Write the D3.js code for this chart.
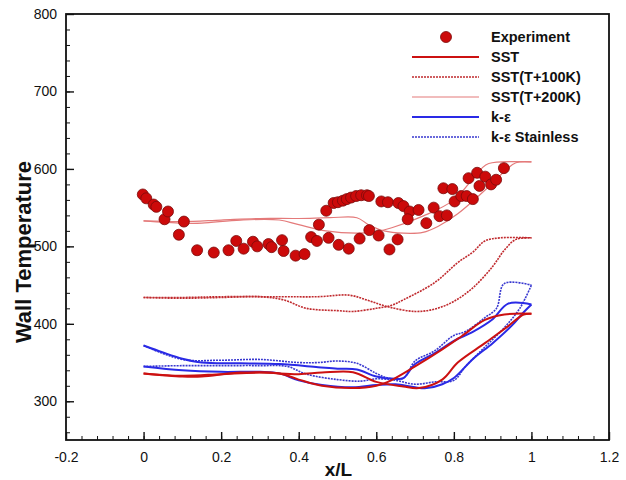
<!DOCTYPE html>
<html>
<head>
<meta charset="utf-8">
<script src="https://cdn.jsdelivr.net/npm/d3@7"></script>
<style>
html,body{margin:0;padding:0;background:#fff;}
svg{display:block;font-family:Arial,"Liberation Sans",sans-serif;}
</style>
</head>
<body>
<svg id="chart" width="626" height="480"></svg>
<script>
// ---------- data ----------
const xTicks = [-0.2, 0, 0.2, 0.4, 0.6, 0.8, 1, 1.2];
const xTickLabels = ["-0.2", "0", "0.2", "0.4", "0.6", "0.8", "1", "1.2"];
const yTicks = [300, 400, 500, 600, 700, 800];
const yTickLabels = ["300", "400", "500", "600", "700", "800"];

const expX = [-0.002,0.007,0.026,0.033,0.054,0.063,0.091,0.104,0.138,0.181,0.219,0.239,0.258,0.282,0.293,0.322,0.330,0.357,0.361,0.392,0.415,0.432,0.447,0.452,0.471,0.477,0.490,0.501,0.503,0.514,0.524,0.529,0.535,0.548,0.557,0.561,0.576,0.581,0.582,0.606,0.613,0.630,0.634,0.655,0.657,0.670,0.686,0.681,0.709,0.729,0.748,0.763,0.773,0.782,0.796,0.802,0.819,0.833,0.838,0.849,0.860,0.866,0.881,0.896,0.909,0.929];
const expT = [567,562,554,551,535,545,515,532,495,492,495,507,497,506,500,503,499,508,494,488,490,512,507,528,546,511,556,557,502,559,561,497,563,565,510,566,566,565,521,514,558,557,496,509,556,552,545,535,547,530,550,539,575,540,574,558,565,565,588,561,595,578,590,580,586,601];

const sstA = [[0,336],[0.1,333],[0.2,335],[0.3,337],[0.4,335],[0.46,337],[0.54,337.5],[0.6,325],[0.67,319],[0.71,317],[0.77,328],[0.81,350],[0.88,375],[0.94,397],[0.98,412],[1.0,413]];
const sstB = [[0,336],[0.1,332],[0.15,332],[0.25,337],[0.35,336],[0.4,328],[0.46,320],[0.54,317],[0.6,320],[0.63,325],[0.7,345],[0.77,367],[0.82,384],[0.88,405],[0.93,412],[1.0,413]];

const sst100A = [[0,434],[0.1,434],[0.2,435],[0.35,435],[0.45,435],[0.53,437],[0.58,430],[0.63,422],[0.7,416],[0.75,419],[0.8,429],[0.85,447],[0.9,474],[0.93,495],[0.96,509],[1.0,511]];
const sst100B = [[0,434],[0.1,433],[0.2,434],[0.3,435],[0.36,431],[0.42,420],[0.5,417],[0.54,416],[0.6,420],[0.64,424],[0.67,431],[0.75,453],[0.81,479],[0.85,493],[0.88,507],[0.92,511],[1.0,511]];

const sst200A = [[0,533],[0.1,532],[0.2,534],[0.3,536],[0.4,536],[0.48,537],[0.55,537],[0.58,528],[0.62,520],[0.67,517],[0.72,518],[0.76,526],[0.81,542],[0.89,577],[0.935,599],[0.96,608],[1.0,609]];
const sst200B = [[0,533],[0.1,530],[0.15,530],[0.25,534],[0.35,534],[0.4,528],[0.47,520],[0.55,517],[0.6,519],[0.64,524],[0.72,539],[0.8,560],[0.87,600],[0.89,607],[1.0,609]];

const keA = [[0,372],[0.05,363],[0.1,355],[0.15,350],[0.25,349],[0.35,348],[0.45,344],[0.5,342],[0.55,341],[0.6,332],[0.65,329],[0.67,330],[0.7,348],[0.75,362],[0.8,378],[0.85,390],[0.9,406],[0.94,426],[1.0,425]];
const keB = [[0,345],[0.1,340],[0.2,338],[0.3,338],[0.35,336],[0.4,327],[0.46,321],[0.54,318],[0.6,321],[0.65,322],[0.7,318],[0.73,317],[0.77,322],[0.8,330],[0.85,355],[0.9,375],[0.95,398],[0.98,415],[1.0,425]];

const keStA = [[0,372],[0.1,354],[0.2,353],[0.3,354],[0.4,350],[0.45,350],[0.5,352],[0.55,349],[0.6,336],[0.63,330],[0.67,330],[0.7,352],[0.75,365],[0.8,385],[0.83,390],[0.88,408],[0.91,420],[0.93,452],[1.0,450]];
const keStB = [[0,345],[0.1,346],[0.2,346],[0.3,346],[0.37,345],[0.42,335],[0.5,328],[0.56,326],[0.6,329],[0.65,327],[0.7,322],[0.75,325],[0.8,327],[0.83,345],[0.88,370],[0.93,395],[0.97,420],[1.0,450]];

const legendLabels = ["Experiment", "SST", "SST(T+100K)", "SST(T+200K)", "k-\u03b5", "k-\u03b5 Stainless"];

// ---------- layout ----------
const svg = d3.select("#chart");
const L = 66, R = 609, T = 14, B = 440;
const x = d3.scaleLinear().domain([-0.2, 1.2]).range([L, R]);
const y = d3.scaleLinear().domain([250, 800]).range([B, T]);

const styles = {
  sst:   {stroke: "#cc1111", width: 2, dash: null},
  s100:  {stroke: "#c02a2e", width: 1.6, dash: "2,1"},
  s200:  {stroke: "#e47a7a", width: 1.2, dash: null},
  ke:    {stroke: "#2a2ae6", width: 2, dash: null},
  keSt:  {stroke: "#3838d0", width: 1.6, dash: "2,1"}
};

const line = d3.line().x(d => x(d[0])).y(d => y(d[1])).curve(d3.curveCatmullRom.alpha(0.5));

const plot = svg.append("g");
plot.append("defs").append("clipPath").attr("id", "clip")
  .append("rect").attr("x", L).attr("y", T).attr("width", R - L).attr("height", B - T);
const lines = plot.append("g").attr("clip-path", "url(#clip)");

function drawSeries(data, st) {
  lines.append("path").datum(data).attr("d", line)
    .attr("fill", "none").attr("stroke", st.stroke)
    .attr("stroke-width", st.width)
    .attr("stroke-dasharray", st.dash)
    .attr("stroke-linejoin", "round");
}

drawSeries(sst200A, styles.s200);
drawSeries(sst200B, styles.s200);
drawSeries(sst100A, styles.s100);
drawSeries(sst100B, styles.s100);
drawSeries(keStA, styles.keSt);
drawSeries(keStB, styles.keSt);
drawSeries(keA, styles.ke);
drawSeries(keB, styles.ke);
drawSeries(sstA, styles.sst);
drawSeries(sstB, styles.sst);

// experiment points
lines.selectAll("circle.exp").data(expX.map((v, i) => [v, expT[i]]))
  .enter().append("circle").attr("class", "exp")
  .attr("cx", d => x(d[0])).attr("cy", d => y(d[1])).attr("r", 5.5)
  .attr("fill", "#cc0a0a").attr("stroke", "#7a0a0a").attr("stroke-width", 0.8);

// ---------- axes ----------
const xAxis = d3.axisBottom(x).tickValues(xTicks).tickFormat((d, i) => xTickLabels[i]).tickSizeInner(-8).tickSizeOuter(0).tickPadding(12);
const gx = svg.append("g").attr("transform", `translate(0,${B})`).call(xAxis);
const xMinor = d3.axisBottom(x).tickValues(d3.range(-0.2, 1.2001, 0.04).map(v => +v.toFixed(2))).tickFormat("").tickSizeInner(-4).tickSizeOuter(0);
svg.append("g").attr("transform", `translate(0,${B})`).call(xMinor).select(".domain").remove();

const yAxis = d3.axisLeft(y).tickValues(yTicks).tickFormat((d, i) => yTickLabels[i]).tickSizeInner(-8).tickSizeOuter(0).tickPadding(9);
const gy = svg.append("g").attr("transform", `translate(${L},0)`).call(yAxis);
const yMinor = d3.axisLeft(y).tickValues(d3.range(260, 800.001, 20)).tickFormat("").tickSizeInner(-4).tickSizeOuter(0);
svg.append("g").attr("transform", `translate(${L},0)`).call(yMinor).select(".domain").remove();

[gx, gy].forEach(g => {
  g.selectAll("text").attr("font-size", 14).attr("font-family", "Arial, 'Liberation Sans', sans-serif").attr("fill", "#111");
  g.selectAll("line").attr("stroke", "#111").attr("stroke-width", 1.4);
  g.select(".domain").remove();
});
svg.selectAll("g .tick line").attr("stroke", "#111");

// frame
svg.append("rect").attr("x", L).attr("y", T).attr("width", R - L).attr("height", B - T)
  .attr("fill", "none").attr("stroke", "#111").attr("stroke-width", 1.8);

// axis titles
svg.append("text").attr("x", (x(-0.2) + x(1.2)) / 2 + 1).attr("y", 476)
  .attr("text-anchor", "middle").attr("font-size", 19).attr("font-weight", "bold").attr("fill", "#111").text("x/L");
svg.append("text").attr("transform", `translate(31,${252}) rotate(-90)`)
  .attr("text-anchor", "middle").attr("font-size", 22).attr("font-weight", "bold").attr("fill", "#111").text("Wall Temperature");

// ---------- legend ----------
const leg = svg.append("g");
const legStyles = [null, styles.sst, styles.s100, styles.s200, styles.ke, styles.keSt];
legendLabels.forEach((lab, i) => {
  const ly = 37 + i * 20;
  if (i === 0) {
    leg.append("circle").attr("cx", 446).attr("cy", ly).attr("r", 5.5)
      .attr("fill", "#cc0a0a").attr("stroke", "#7a0a0a").attr("stroke-width", 0.8);
  } else {
    const st = legStyles[i];
    leg.append("line").attr("x1", 412).attr("x2", 479).attr("y1", ly).attr("y2", ly)
      .attr("stroke", st.stroke).attr("stroke-width", st.width).attr("stroke-dasharray", st.dash);
  }
  leg.append("text").attr("x", 491).attr("y", ly + 5).attr("font-size", 14.5).attr("font-weight", "bold")
    .attr("fill", "#111").text(lab);
});
</script>
</body>
</html>
